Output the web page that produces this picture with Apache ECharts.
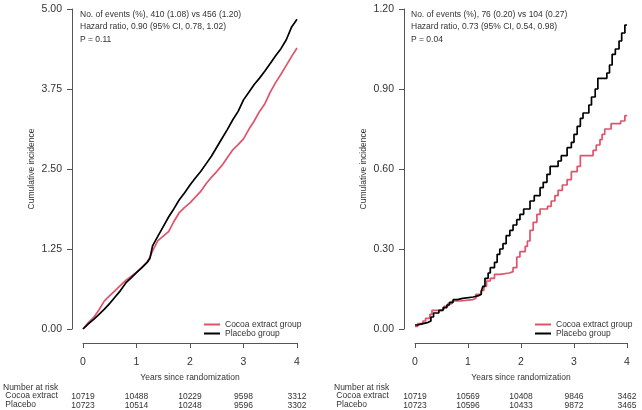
<!DOCTYPE html>
<html><head><meta charset="utf-8">
<script src="https://cdn.jsdelivr.net/npm/echarts@6/dist/echarts.min.js"></script>
<style>html,body{margin:0;padding:0;background:#fff}#c{width:642px;height:410px}</style>
</head><body><div id="c"></div>
<script>
// ---- Data ----
const leftYears = [0,0.1,0.2,0.3,0.4,0.5,0.6,0.7,0.8,0.9,1.0,1.1,1.2,1.25,1.3,1.4,1.5,1.6,1.7,1.8,1.9,2.0,2.1,2.2,2.3,2.4,2.5,2.6,2.7,2.8,2.9,3.0,3.1,3.2,3.3,3.4,3.5,3.6,3.7,3.8,3.9,4.0];
const leftCocoa =   [0,0.10,0.18,0.30,0.44,0.52,0.60,0.68,0.76,0.82,0.89,0.96,1.05,1.12,1.22,1.38,1.45,1.52,1.68,1.82,1.90,1.97,2.06,2.15,2.27,2.37,2.46,2.56,2.68,2.80,2.88,2.97,3.12,3.25,3.40,3.52,3.70,3.85,3.98,4.12,4.26,4.39];
const leftPlacebo = [0,0.08,0.15,0.23,0.31,0.40,0.50,0.60,0.72,0.80,0.88,0.96,1.04,1.10,1.30,1.45,1.60,1.75,1.88,2.02,2.13,2.25,2.36,2.46,2.58,2.70,2.84,2.98,3.12,3.27,3.40,3.58,3.70,3.82,3.92,4.03,4.15,4.27,4.38,4.52,4.72,4.84];

const rightCocoaYears =  [0,0.05,0.15,0.2,0.28,0.32,0.5,0.55,0.62,0.7,0.85,1.09,1.15,1.25,1.3,1.35,1.42,1.5,1.6,1.78,1.85,1.92,1.98,2.08,2.12,2.17,2.23,2.3,2.36,2.5,2.57,2.64,2.7,2.78,2.87,2.95,3.06,3.12,3.36,3.42,3.49,3.53,3.58,3.7,3.88,3.96,4.0];
const rightCocoaValues = [0.01,0.02,0.03,0.04,0.055,0.07,0.075,0.085,0.095,0.105,0.11,0.115,0.13,0.145,0.16,0.18,0.19,0.205,0.21,0.215,0.23,0.27,0.29,0.31,0.33,0.37,0.40,0.43,0.45,0.46,0.48,0.50,0.52,0.54,0.56,0.59,0.61,0.65,0.67,0.69,0.71,0.73,0.75,0.77,0.78,0.80,0.80];
const rightPlaceboYears =  [0,0.05,0.15,0.25,0.3,0.35,0.45,0.53,0.6,0.65,0.72,0.8,0.9,1.1,1.2,1.25,1.28,1.32,1.38,1.42,1.5,1.55,1.6,1.66,1.72,1.79,1.85,1.92,1.98,2.05,2.17,2.25,2.36,2.42,2.49,2.55,2.7,2.76,2.87,2.95,3.0,3.06,3.12,3.17,3.28,3.33,3.4,3.45,3.62,3.67,3.72,3.78,3.85,3.9,3.96,4.0];
const rightPlaceboValues = [0.015,0.02,0.025,0.03,0.045,0.06,0.07,0.08,0.09,0.10,0.11,0.115,0.12,0.125,0.13,0.14,0.16,0.19,0.21,0.23,0.25,0.28,0.30,0.32,0.35,0.37,0.39,0.41,0.43,0.45,0.48,0.50,0.53,0.55,0.58,0.61,0.63,0.65,0.68,0.70,0.73,0.76,0.79,0.81,0.84,0.87,0.90,0.94,0.96,0.99,1.03,1.05,1.08,1.11,1.14,1.14];

const riskYears = [0,1,2,3,4];
const leftRiskCocoa = [10719,10488,10229,9598,3312];
const leftRiskPlacebo = [10723,10514,10248,9596,3302];
const rightRiskCocoa = [10719,10569,10408,9846,3462];
const rightRiskPlacebo = [10723,10596,10433,9872,3465];

const leftNotes = ['No. of events (%), 410 (1.08) vs 456 (1.20)','Hazard ratio, 0.90 (95% CI, 0.78, 1.02)','P = 0.11'];
const rightNotes = ['No. of events (%), 76 (0.20) vs 104 (0.27)','Hazard ratio, 0.73 (95% CI, 0.54, 0.98)','P = 0.04'];

const seriesNames = ['Cocoa extract group','Placebo group'];
const rowLabels = ['Number at risk',' Cocoa extract',' Placebo'];
const xName = 'Years since randomization';
const yName = 'Cumulative incidence';

// ---- Styles ----
const FONT = "'Liberation Sans', Arial, sans-serif";
const TXT = '#333';
const AX = '#555';
const PINK = '#DF536B';
const BLACK = '#000';

const chart = echarts.init(document.getElementById('c'), null, {renderer:'canvas'});

function mainX(gi){
  return {type:'value', gridIndex:gi, min:0, max:4, interval:1, position:'bottom', offset:14,
    name:xName, nameLocation:'middle', nameGap:27,
    nameTextStyle:{fontFamily:FONT, fontSize:8.5, color:TXT},
    axisLine:{show:true, onZero:false, lineStyle:{color:AX, width:1}},
    axisTick:{show:true, length:5, lineStyle:{color:AX}},
    splitLine:{show:false},
    axisLabel:{margin:14, fontFamily:FONT, fontSize:10.5, color:TXT}};
}
function riskX(gi, values, margin){
  return {type:'value', gridIndex:gi, min:0, max:4, interval:1, position:'bottom', offset:14,
    axisLine:{show:false, onZero:false}, axisTick:{show:false}, splitLine:{show:false},
    axisLabel:{margin:margin, fontFamily:FONT, fontSize:8.5, color:TXT,
      formatter:v=>{const i=riskYears.indexOf(v); return i>=0? String(values[i]):'';}}};
}
function mainY(gi, max, interval){
  return {type:'value', gridIndex:gi, min:0, max:max, interval:interval, offset:11,
    name:yName, nameLocation:'middle', nameGap:36,
    nameTextStyle:{fontFamily:FONT, fontSize:8.5, color:TXT},
    axisLine:{show:true, onZero:false, lineStyle:{color:AX, width:1}},
    axisTick:{show:true, length:5, lineStyle:{color:AX}},
    splitLine:{show:false},
    axisLabel:{margin:10, fontFamily:FONT, fontSize:10.5, color:TXT, formatter:v=>v.toFixed(2)}};
}
function notes(lines, x){
  return lines.map((t,i)=>({type:'text', left:x, top:10+i*12.5,
    style:{text:t, font:'8.5px '+FONT, fill:TXT}}));
}
function rows(x){
  const tops=[383,391.5,400.5];
  return rowLabels.map((t,i)=>({type:'text', left:x, top:tops[i],
    style:{text:t, font:'8.5px '+FONT, fill:TXT}}));
}
function legend(left){
  return {left:left, top:315, orient:'vertical', icon:'rect', itemWidth:16, itemHeight:2,
    itemGap:0, selectedMode:false, data:seriesNames,
    textStyle:{fontFamily:FONT, fontSize:8.5, color:TXT, lineHeight:9, padding:[0,0,0,0]}};
}
function line(name, xi, yi, xs, ys, color, step){
  return {type:'line', name:name, xAxisIndex:xi, yAxisIndex:yi, showSymbol:false, symbol:'none',
    step:step?'end':false, color:color, itemStyle:{color:color},
    lineStyle:{color:color, width:1.7}, data:xs.map((x,i)=>[x, ys[i]]), animation:false};
}

chart.setOption({
  animation:false,
  grid:[
    {left:83, top:9, width:214, height:320},
    {left:415, top:9, width:212, height:320}
  ],
  xAxis:[
    mainX(0), mainX(1),
    riskX(0, leftRiskCocoa, 49), riskX(0, leftRiskPlacebo, 58),
    riskX(1, rightRiskCocoa, 49), riskX(1, rightRiskPlacebo, 58)
  ],
  yAxis:[ mainY(0, 5, 1.25), mainY(1, 1.2, 0.3) ],
  legend:[ legend(199), legend(530) ],
  series:[
    line(seriesNames[0], 0, 0, leftYears, leftCocoa, PINK, false),
    line(seriesNames[1], 0, 0, leftYears, leftPlacebo, BLACK, false),
    line(seriesNames[0], 1, 1, rightCocoaYears, rightCocoaValues, PINK, true),
    line(seriesNames[1], 1, 1, rightPlaceboYears, rightPlaceboValues, BLACK, true)
  ],
  graphic: [].concat(notes(leftNotes, 80), notes(rightNotes, 411), rows(3), rows(334))
});
</script>
</body></html>
